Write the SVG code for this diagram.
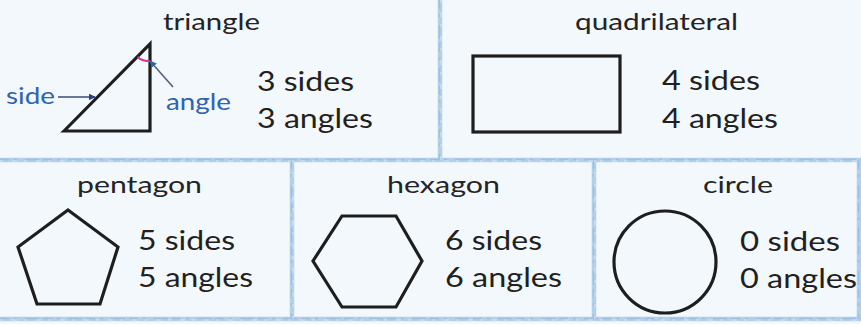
<svg xmlns="http://www.w3.org/2000/svg" width="861" height="324" viewBox="0 0 861 324">
  <defs>
    <style>
      .bg { fill: #f2f8fc; }
      .grid { stroke: #b4cfe7; stroke-width: 4.5; fill: none; }
      .gridtex { stroke: #8db2d8; stroke-width: 1.4; fill: none; stroke-dasharray: 9 5 3 8 14 4; opacity: 0.55; }
      .gridlite { stroke: #e2eef8; stroke-width: 1; fill: none; stroke-dasharray: 3 9 5 7; opacity: 0.8; }
      .shape { fill: none; stroke: #1e1e1e; stroke-width: 3.2; stroke-linejoin: miter; }
      .title { font-family: "Lato", "Open Sans", sans-serif; font-size: 24px; fill: #262324; }
      .count { font-family: "Lato", "Open Sans", sans-serif; font-size: 27px; fill: #231f20; }
      .label { font-family: "Lato", "Open Sans", sans-serif; font-size: 23px; fill: #2f63b3; }
      .conn { stroke: #3b4a78; stroke-width: 1.6; fill: none; }
      .conn2 { stroke: #56607a; stroke-width: 1.6; fill: none; }
    </style>
    <marker id="ah" viewBox="0 0 10 10" refX="9" refY="5" markerWidth="7" markerHeight="7" markerUnits="userSpaceOnUse" orient="auto">
      <path d="M0,0 L10,5 L0,10 z" fill="#2c3f80"/>
    </marker>
    <marker id="ah2" viewBox="0 0 10 10" refX="9" refY="5" markerWidth="7" markerHeight="7" markerUnits="userSpaceOnUse" orient="auto">
      <path d="M0,0 L10,5 L0,10 z" fill="#2f5fa8"/>
    </marker>
  </defs>

  <rect class="bg" x="0" y="0" width="861" height="324"/>

  <g id="grid">
    <path class="grid" d="M0,160 H861 M0,319 H861 M440,0 V160 M292,160 V319 M594,160 V319 M859,160 V319"/>
    <path class="gridtex" d="M0,159.5 H861 M0,318.5 H861 M439.5,0 V160 M291.5,160 V319 M593.5,160 V319 M858.5,160 V319"/>
    <path class="gridlite" d="M0,161 H861 M0,320 H861 M441,0 V160 M293,160 V319 M595,160 V319"/>
  </g>

  <g id="triangle">
    <text class="title" x="163" y="30" textLength="97" lengthAdjust="spacingAndGlyphs">triangle</text>
    <polygon class="shape" points="64,131 150,44 150,131"/>
    <path d="M137.5,57 A17,17 0 0 0 150,61" fill="none" stroke="#d2329b" stroke-width="2"/>
    <text class="label" x="6" y="104" textLength="49" lengthAdjust="spacingAndGlyphs">side</text>
    <text class="label" x="166" y="110" textLength="65" lengthAdjust="spacingAndGlyphs">angle</text>
    <text class="count" x="257" y="91" textLength="97" lengthAdjust="spacingAndGlyphs">3 sides</text>
    <text class="count" x="257" y="128" textLength="116" lengthAdjust="spacingAndGlyphs">3 angles</text>
  </g>

  <g id="quadrilateral">
    <text class="title" x="575" y="30" textLength="163" lengthAdjust="spacingAndGlyphs">quadrilateral</text>
    <rect class="shape" x="473" y="56" width="147" height="76"/>
    <text class="count" x="662" y="90" textLength="98" lengthAdjust="spacingAndGlyphs">4 sides</text>
    <text class="count" x="662" y="128" textLength="116" lengthAdjust="spacingAndGlyphs">4 angles</text>
  </g>

  <g id="pentagon">
    <text class="title" x="77" y="193" textLength="125" lengthAdjust="spacingAndGlyphs">pentagon</text>
    <polygon class="shape" points="68,210 118,247 100,304 37,304 18,247"/>
    <text class="count" x="138" y="250" textLength="97" lengthAdjust="spacingAndGlyphs">5 sides</text>
    <text class="count" x="138" y="287" textLength="115" lengthAdjust="spacingAndGlyphs">5 angles</text>
  </g>

  <g id="hexagon">
    <text class="title" x="387" y="193" textLength="113" lengthAdjust="spacingAndGlyphs">hexagon</text>
    <polygon class="shape" points="342,216 396,216 422,261 396,307 342,307 313,261"/>
    <text class="count" x="445" y="250" textLength="97" lengthAdjust="spacingAndGlyphs">6 sides</text>
    <text class="count" x="445" y="287" textLength="117" lengthAdjust="spacingAndGlyphs">6 angles</text>
  </g>

  <g id="circle">
    <text class="title" x="703" y="193" textLength="70" lengthAdjust="spacingAndGlyphs">circle</text>
    <circle class="shape" cx="665" cy="262" r="51"/>
    <text class="count" x="740" y="251" textLength="100" lengthAdjust="spacingAndGlyphs">0 sides</text>
    <text class="count" x="740" y="288" textLength="117" lengthAdjust="spacingAndGlyphs">0 angles</text>
  </g>

  <g id="connectors">
    <line class="conn" x1="58" y1="97" x2="95" y2="97" marker-end="url(#ah)"/>
    <line class="conn2" x1="173" y1="87" x2="150" y2="61" marker-end="url(#ah2)"/>
  </g>
</svg>
